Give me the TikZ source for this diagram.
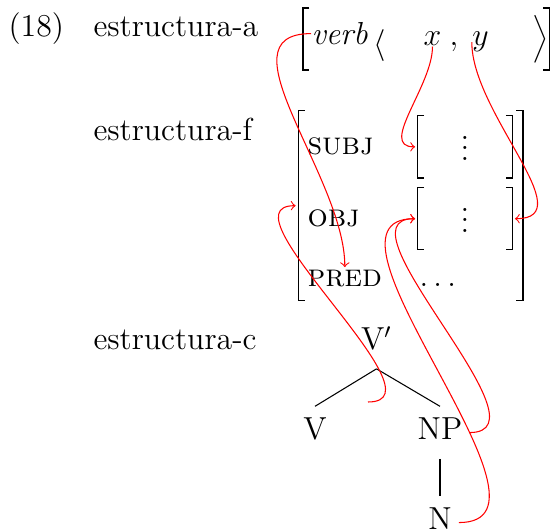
\documentclass[tikz,border=0pt]{standalone}
\usepackage{tikz}
\usetikzlibrary{arrows}
\usetikzlibrary{fit}
\tikzstyle{lbl}=[inner sep=0pt, anchor=base west]
\tikzstyle{elt}=[inner sep=0pt, anchor=base]
\tikzstyle{fbox}=[inner sep=0pt, outer sep=0pt]
\tikzstyle{cat}=[inner xsep=2.5pt, inner ysep=4.3pt, text depth=2.6pt, anchor=base]
\tikzstyle{branch}=[draw, line width=0.4pt]
\tikzstyle{corr}=[draw=red, ->, line width=0.4pt, shorten >=1pt]
\newcommand{\sqbr}[2][0.45pt]{%
  \draw[line width=#1] ([xshift=2.4pt]#2.north west) -- (#2.north west)
    -- (#2.south west) -- ([xshift=2.4pt]#2.south west);
  \draw[line width=#1] ([xshift=-2.4pt]#2.north east) -- (#2.north east)
    -- (#2.south east) -- ([xshift=-2.4pt]#2.south east);}

\begin{document}
\begin{tikzpicture}[x=0.377pt, y=-0.377pt, font=\fontsize{12}{14.4}\selectfont]
\useasboundingbox (0,0) rectangle (553,532);

\node[lbl] (ex) at (8,37) {(18)};
\node[lbl] (alab) at (93,37) {estructura-a};
\node[lbl] (flab) at (93,141) {estructura-f};
\node[lbl] (clab) at (93,350) {estructura-c};

% a-structure
\node[fbox, fit={(303,8) (549.5,70)}] (astr) {};
\sqbr[0.6pt]{astr}
\node[lbl] (verb) at (311,44.5) {\textit{verb}};
\node[elt] (lang) at (379.5,54) {$\langle$};
\node[elt] (argx) at (432.5,46) {$x$};
\node[elt] (comma) at (454,46) {$,$};
\node[elt] (argy) at (480.5,46) {$y$};
\node[elt] (rang) at (540.5,47) {$\Big\rangle$};

% f-structure
\node[fbox, fit={(298.3,110.7) (522.7,300.7)}] (fstr) {};
\sqbr[0.6pt]{fstr}
\node[lbl] (subj) at (307,155) {\textsc{subj}};
\node[lbl] (obj) at (307,226.7) {\textsc{obj}};
\node[lbl] (pred) at (307,286.7) {\textsc{pred}};
\node[fbox, fit={(417.7,115.7) (512.3,178)}] (subjval) {};
\node[fbox, fit={(417.7,187.7) (512.3,249.7)}] (objval) {};
\sqbr{subjval}
\sqbr{objval}
\node[elt] (subjdots) at (465,160.6) {$\vdots$};
\node[elt] (objdots) at (465,232.6) {$\vdots$};
\node[lbl] (predval) at (419,286.7) {$\ldots$};

% c-structure
\node[cat] (vbar) at (376.5,350) {V$'$};
\node[cat] (v) at (315,440) {V};
\node[cat] (np) at (440,440) {NP};
\node[cat] (n) at (440,530) {N};
\draw[branch] (vbar.south) -- (v.north);
\draw[branch] (vbar.south) -- (np.north);
\draw[branch] (np.south) -- (n.north);
\coordinate (vbarphi) at (368,402);

% correspondences
\draw[corr] (verb.west) to[out=180,in=90] (pred.north);
\draw[corr] (argx.south) to[out=-90,in=180] (subjval.west);
\draw[corr] (argy.west) to[out=-90,in=0] (objval.east);
\draw[corr] (vbarphi) to[out=0,in=180] (fstr.west);
\draw[corr] (np.east) to[out=0,in=180] (objval.west);
\draw[corr] (n.east) to[out=0,in=180] (objval.west);
\end{tikzpicture}
\end{document}
